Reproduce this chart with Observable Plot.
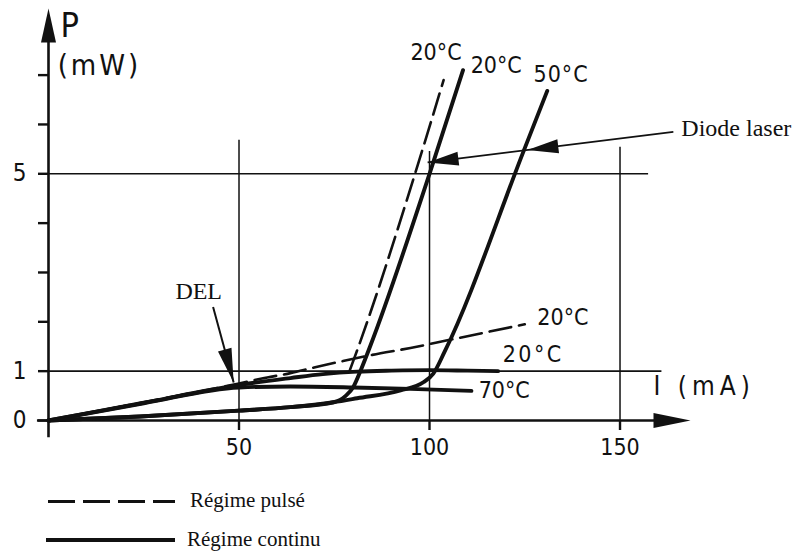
<!DOCTYPE html>
<html><head><meta charset="utf-8">
<script src="https://cdn.jsdelivr.net/npm/d3@7"></script>
<script src="https://cdn.jsdelivr.net/npm/@observablehq/plot@0.6"></script>
<style>
body{margin:0;background:#fff;overflow:hidden}
#chart svg{display:block;overflow:visible}
#legend{display:block}
</style>
</head><body>
<div id="chart"></div>
<svg id="legend" width="796" height="85" xmlns="http://www.w3.org/2000/svg">
  <line x1="48" y1="31.5" x2="175" y2="31.5" stroke="#111" stroke-width="3" stroke-dasharray="27,8"/>
  <text x="190" y="37" font-family="'Liberation Serif','DejaVu Serif',serif" font-size="21" fill="#111">Régime pulsé</text>
  <line x1="46" y1="70" x2="175" y2="70" stroke="#111" stroke-width="3.8"/>
  <text x="187" y="75.5" font-family="'Liberation Serif','DejaVu Serif',serif" font-size="21" fill="#111">Régime continu</text>
</svg>
<script>
// ---- data (current I in mA, optical power P in mW) ----
// LED (DEL), pulsed, 20°C
const delPulsedI = [0, 25, 50, 56, 63.5, 70, 77, 85, 95, 105, 115, 125];
const delPulsedP = [0, 0.37, 0.75, 0.85, 0.96, 1.08, 1.2, 1.33, 1.47, 1.63, 1.79, 1.95];
// LED (DEL), continuous, 20°C
const delCont20I = [0, 25, 50, 63.5, 72, 81, 90, 100, 110, 118];
const delCont20P = [0, 0.36, 0.72, 0.86, 0.94, 0.99, 1.01, 1.02, 1.01, 1.0];
// LED (DEL), continuous, 70°C
const delCont70I = [0, 25, 50, 63.5, 80, 95, 111];
const delCont70P = [0, 0.35, 0.67, 0.69, 0.67, 0.64, 0.6];
// Laser diode, continuous, 20°C
const laserCont20I = [0, 24, 50, 63.5, 74.8, 78, 80, 81.9, 84.5, 100, 108.8];
const laserCont20P = [0, 0.08, 0.2, 0.27, 0.37, 0.5, 0.68, 1.01, 1.52, 5.0, 7.1];
// Laser diode, continuous, 50°C
const laserCont50I = [0, 24, 50, 63.5, 74.8, 81, 92.4, 98.5, 101, 104, 124.8, 130.9];
const laserCont50P = [0, 0.08, 0.2, 0.27, 0.37, 0.45, 0.61, 0.78, 0.95, 1.4, 5.48, 6.68];
// Laser diode, pulsed, 20°C
const laserPulsedI = [79, 81, 97, 103.7];
const laserPulsedP = [1.0, 1.42, 5.2, 6.9];

// axes and reference lines
const xTickValues = [50, 100, 150];
const yTickMarks = [0, 1, 2, 3, 4, 5, 6, 7];
const yTickLabels = [0, 1, 5];
const gridYValues = [1, 5];
const gridYEnds = [161, 157.5];
const gridXValues = [50, 100, 150];
const gridXTops = [5.68, 5.45, 5.54];
const xMax = 168.5, yMax = 8.35;

// annotations
const curveLabels = ["20°C", "20°C", "50°C", "20°C", "20°C", "70°C"];
const curveLabelI = [95.0, 110.8, 127.3, 128.3, 119.2, 112.9];
const curveLabelP = [7.46, 7.19, 7.01, 2.08, 1.34, 0.61];
const curveLabelSpacing = [0, 0, 1, 0, 2.5, 0];
// arrows: start point and arrow-head tips
const laserArrowStart = [164, 5.85];
const laserArrowTips = [[125.7, 5.48], [99.5, 5.23]];
const delArrowStart = [43.2, 2.3];
const delArrowTip = [48.6, 0.77];

// ---- layout ----
const W = 796, H = 470, mL = 48, mR = 106, mT = 8, mB = 50;
const kx = (W - mL - mR) / xMax, ky = (H - mT - mB) / yMax;
const SANS = "'Liberation Sans Narrow','DejaVu Sans Condensed','Arial Narrow',sans-serif";
const SERIF = "'Liberation Serif','DejaVu Serif','Times New Roman',serif";
const INK = "#111";

const toRows = (I, P) => I.map((x, i) => ({I: x, P: P[i]}));

// filled arrowhead symbol pointing from -> to (data units), tip at the dot position
function head(from, to, len, half) {
  const dx = (to[0] - from[0]) * kx, dy = -(to[1] - from[1]) * ky;
  const n = Math.hypot(dx, dy), ux = dx / n, uy = dy / n;
  return {draw(ctx) {
    const bx = -len * ux, by = -len * uy, px = -uy * half, py = ux * half;
    ctx.moveTo(0, 0); ctx.lineTo(bx + px, by + py); ctx.lineTo(bx - px, by - py); ctx.closePath();
  }};
}

const solid = {x: "I", y: "P", stroke: INK, strokeWidth: 3.9, curve: "monotone-x", strokeLinecap: "round", strokeLinejoin: "round"};
const dashed = {x: "I", y: "P", stroke: INK, strokeWidth: 2.6, strokeDasharray: "22,8", curve: "monotone-x"};

const gridH = gridYValues.map((v, i) => ({v, end: gridYEnds[i]}));
const gridV = gridXValues.map((v, i) => ({v, top: gridXTops[i]}));
const labels = curveLabels.map((t, i) => ({t, I: curveLabelI[i], P: curveLabelP[i]}));
const laserTipRows = laserArrowTips.map(d => ({I: d[0], P: d[1]}));

const plot = Plot.plot({
  width: W, height: H,
  marginLeft: mL, marginRight: mR, marginTop: mT, marginBottom: mB,
  x: {domain: [0, xMax]},
  y: {domain: [0, yMax]},
  style: {background: "#fff", color: INK, overflow: "visible"},
  marks: [
    // grid
    Plot.ruleY(gridH, {y: "v", x1: 0, x2: "end", stroke: INK, strokeWidth: 1.6}),
    Plot.ruleX(gridV, {x: "v", y1: 0, y2: "top", stroke: INK, strokeWidth: 1.5}),
    // axis lines with arrows
    Plot.ruleY([0], {x1: -2.9, x2: xMax - 30 / kx, stroke: INK, strokeWidth: 2.6}),
    Plot.ruleX([0], {y1: -0.35, y2: yMax - 30 / ky, stroke: INK, strokeWidth: 2.6}),
    Plot.dot([{I: xMax, P: 0}], {x: "I", y: "P", symbol: head([0, 0], [1, 0], 37, 7.5), fill: INK, stroke: "none"}),
    Plot.dot([{I: 0, P: yMax}], {x: "I", y: "P", symbol: head([0, 0], [0, 1], 34, 7.5), fill: INK, stroke: "none"}),
    // ticks
    Plot.axisY({ticks: yTickMarks, tickSize: 10, tickFormat: () => "", strokeWidth: 2.4, label: null}),
    Plot.axisY({ticks: yTickLabels, tickSize: 0, tickPadding: 22, fontSize: 24, fontFamily: SANS, label: null}),
    Plot.axisX({ticks: xTickValues, tickSize: 10, tickPadding: 8, fontSize: 23, fontFamily: SANS, strokeWidth: 2.4, label: null}),
    // curves
    Plot.line(toRows(delPulsedI, delPulsedP), dashed),
    Plot.line(toRows(laserPulsedI, laserPulsedP), dashed),
    Plot.line(toRows(delCont70I, delCont70P), solid),
    Plot.line(toRows(delCont20I, delCont20P), solid),
    Plot.line(toRows(laserCont50I, laserCont50P), solid),
    Plot.line(toRows(laserCont20I, laserCont20P), solid),
    // arrows
    Plot.link([0], {x1: laserArrowStart[0], y1: laserArrowStart[1], x2: laserArrowTips[1][0], y2: laserArrowTips[1][1], stroke: INK, strokeWidth: 1.8}),
    Plot.dot(laserTipRows, {x: "I", y: "P", symbol: head(laserArrowStart, laserArrowTips[1], 31, 7), fill: INK, stroke: "none"}),
    Plot.link([0], {x1: delArrowStart[0], y1: delArrowStart[1], x2: delArrowTip[0], y2: delArrowTip[1], stroke: INK, strokeWidth: 2}),
    Plot.dot([{I: delArrowTip[0], P: delArrowTip[1]}], {x: "I", y: "P", symbol: head(delArrowStart, delArrowTip, 34, 7), fill: INK, stroke: "none"}),
    // labels
    Plot.text(labels, {x: "I", y: "P", text: "t", textAnchor: "start", fontSize: 23, fontFamily: SANS, fill: INK}),
    Plot.text(["Diode laser"], {x: 166.1, y: 5.92, textAnchor: "start", fontSize: 24, fontFamily: SERIF, fill: INK}),
    Plot.text(["DEL"], {x: 33.3, y: 2.61, textAnchor: "start", fontSize: 24, fontFamily: SERIF, fill: INK}),
    Plot.text(["P"], {x: 3.15, y: 8.0, textAnchor: "start", fontSize: 34, fontFamily: SANS, fill: INK}),
    Plot.text(["(mW)"], {x: 2.4, y: 7.2, textAnchor: "start", fontSize: 29, fontFamily: SANS, fill: INK}),
    Plot.text(["I (mA)"], {x: 158.8, y: 0.69, textAnchor: "start", fontSize: 26, fontFamily: SANS, fill: INK})
  ]
});
document.getElementById("chart").appendChild(plot);
// letter spacing for the hand-lettered labels
const spacingByText = {"(mW)": 3, "I (mA)": 5};
let k = 0;
plot.querySelectorAll("text").forEach(t => {
  const s = t.textContent;
  if (s in spacingByText) t.style.letterSpacing = spacingByText[s] + "px";
  else if (curveLabels.includes(s) && k < curveLabels.length) {
    const sp = curveLabelSpacing[k++];
    if (sp) t.style.letterSpacing = sp + "px";
  }
});
</script>
</body></html>
